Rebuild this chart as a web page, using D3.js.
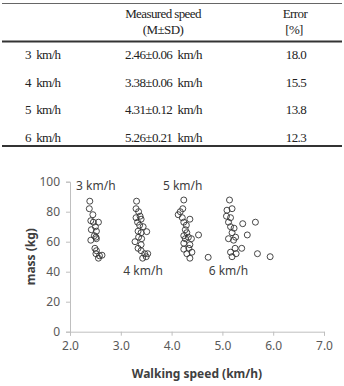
<!DOCTYPE html>
<html lang="en">
<head>
<meta charset="utf-8">
<title>Walking speed vs mass</title>
<script src="https://d3js.org/d3.v7.min.js"></script>
<style>
  body { margin: 0; background: #fff; }
  svg { display: block; }
</style>
</head>
<body>
<script>

// table values
var targetSpeeds = ["3  km/h", "4  km/h", "5  km/h", "6  km/h"];
var measuredSpeeds = ["2.46\u00b10.06  km/h", "3.38\u00b10.06  km/h", "4.31\u00b10.12  km/h", "5.26\u00b10.21  km/h"];
var errors = ["18.0", "15.5", "13.8", "12.3"];

// scatter values [walking speed, mass]
var walk3 = [[2.39,87],[2.38,82],[2.45,78],[2.41,74],[2.46,73],[2.56,73],[2.50,70],[2.52,67],[2.42,68],
             [2.48,64],[2.52,62],[2.41,61],[2.51,63],[2.49,55.6],[2.52,54],[2.51,52],[2.58,50.6],[2.63,51],[2.56,49]];
var walk4 = [[3.31,87],[3.30,82],[3.35,80],[3.38,77],[3.30,76],[3.40,75],[3.33,73],[3.37,71],[3.44,70],[3.34,67],
             [3.40,66],[3.51,66.7],[3.35,63],[3.41,62],[3.28,60],[3.40,58],[3.34,55.6],[3.40,54],[3.47,52],[3.53,52],[3.43,49],[3.50,50]];
var walk5 = [[4.24,87.8],[4.22,82],[4.17,80],[4.13,78],[4.21,76],[4.36,75],[4.24,73],[4.29,71],[4.27,68],[4.30,66],
             [4.24,64],[4.33,63],[4.39,62],[4.53,64.5],[4.27,62],[4.24,59],[4.36,58],[4.24,55],[4.34,55.6],[4.40,53],
             [4.30,52],[4.36,49],[4.72,49.6]];
var walk6 = [[5.14,87.8],[5.19,82],[5.09,81],[5.08,77],[5.16,76],[5.12,73],[5.23,69],[5.40,72],[5.65,73],[5.16,70],
             [5.19,66],[5.26,63],[5.12,62],[5.22,61],[5.49,64.5],[5.38,55.6],[5.25,55.6],[5.16,53],[5.27,52],[5.19,50],
             [5.69,52],[5.94,50]];

// annotation labels [speed, mass, text]
var clusterLabels = [[2.12,94.5,"3 km/h"],[3.05,37.5,"4 km/h"],[3.83,94.5,"5 km/h"],[4.73,37.5,"6 km/h"]];

var xTicks = [2, 3, 4, 5, 6, 7];
var yTicks = [0, 20, 40, 60, 80, 100];

var svg = d3.select("body").append("svg")
	.attr("width", 344)
	.attr("height", 386);

// ---- table ----
var tbl = svg.append("g")
	.attr("font-family", "'Liberation Serif', 'DejaVu Serif', serif")
	.attr("font-size", "13px")
	.attr("fill", "#222")
	.style("letter-spacing", "-0.6px");

tbl.append("line").attr("x1", 2).attr("x2", 342).attr("y1", 3.5).attr("y2", 3.5)
	.attr("stroke", "#666").attr("stroke-width", 1);
tbl.append("line").attr("x1", 2).attr("x2", 342).attr("y1", 41.5).attr("y2", 41.5)
	.attr("stroke", "#333").attr("stroke-width", 2.2);
tbl.append("line").attr("x1", 2).attr("x2", 342).attr("y1", 146).attr("y2", 146)
	.attr("stroke", "#333").attr("stroke-width", 2);

tbl.append("text").attr("x", 163).attr("y", 18).attr("text-anchor", "middle").text("Measured  speed");
tbl.append("text").attr("x", 163).attr("y", 34).attr("text-anchor", "middle").text("(M\u00b1SD)");
tbl.append("text").attr("x", 295).attr("y", 18).attr("text-anchor", "middle").text("Error");
tbl.append("text").attr("x", 294).attr("y", 34).attr("text-anchor", "middle").text("[%]");

var rowY = d3.scalePoint().domain(d3.range(targetSpeeds.length)).range([59, 142]);

tbl.selectAll(".c1").data(targetSpeeds).enter().append("text")
	.attr("x", 25).attr("y", function(d, i){ return rowY(i); })
	.style("white-space", "pre")
	.text(function(d){ return d; });
tbl.selectAll(".c2").data(measuredSpeeds).enter().append("text")
	.attr("x", 125).attr("y", function(d, i){ return rowY(i); })
	.style("white-space", "pre")
	.text(function(d){ return d; });
tbl.selectAll(".c3").data(errors).enter().append("text")
	.attr("x", 296).attr("y", function(d, i){ return rowY(i); })
	.attr("text-anchor", "middle")
	.text(function(d){ return d; });

// ---- scatter ----
var xscale = d3.scaleLinear().domain([2, 7]).range([70, 324]);
var yscale = d3.scaleLinear().domain([0, 100]).range([331.7, 181.7]);

var chart = svg.append("g")
	.attr("font-family", "'Noto Sans', 'Open Sans', sans-serif");

var xAxis = chart.append("g")
	.attr("transform", "translate(0," + yscale(0) + ")")
	.call(d3.axisBottom(xscale).tickValues(xTicks).tickSize(4).tickPadding(6)
		.tickFormat(d3.format(".1f")));
var yAxis = chart.append("g")
	.attr("transform", "translate(" + xscale(2) + ",0)")
	.call(d3.axisLeft(yscale).tickValues(yTicks).tickSize(4).tickPadding(6));

[xAxis, yAxis].forEach(function(a){
	a.select(".domain").attr("stroke", "#bfbfbf");
	a.selectAll(".tick line").attr("stroke", "#bfbfbf");
	a.selectAll(".tick text").attr("fill", "#595959").attr("font-size", "12px")
		.attr("font-family", "'Noto Sans', 'Open Sans', sans-serif");
});

var all = walk3.concat(walk4, walk5, walk6);
chart.append("g").selectAll("circle")
	.data(all).enter().append("circle")
	.attr("cx", function(d){ return xscale(d[0]); })
	.attr("cy", function(d){ return yscale(d[1]); })
	.attr("r", 3)
	.attr("fill", "none")
	.attr("stroke", "#333")
	.attr("stroke-width", 0.9);

chart.append("g").selectAll("text")
	.data(clusterLabels).enter().append("text")
	.attr("x", function(d){ return xscale(d[0]); })
	.attr("y", function(d){ return yscale(d[1]); })
	.attr("font-size", "12px")
	.attr("fill", "#404040")
	.text(function(d){ return d[2]; });

// axis titles
chart.append("text")
	.attr("transform", "translate(35," + yscale(50) + ") rotate(-90)")
	.attr("text-anchor", "middle")
	.attr("font-size", "12px")
	.attr("font-weight", "bold")
	.attr("fill", "#404040")
	.text("mass (kg)");
chart.append("text")
	.attr("x", (xscale(2) + xscale(7)) / 2)
	.attr("y", 378)
	.attr("text-anchor", "middle")
	.attr("font-size", "12px")
	.attr("font-weight", "bold")
	.attr("fill", "#404040")
	.text("Walking speed (km/h)");

</script>
</body>
</html>
